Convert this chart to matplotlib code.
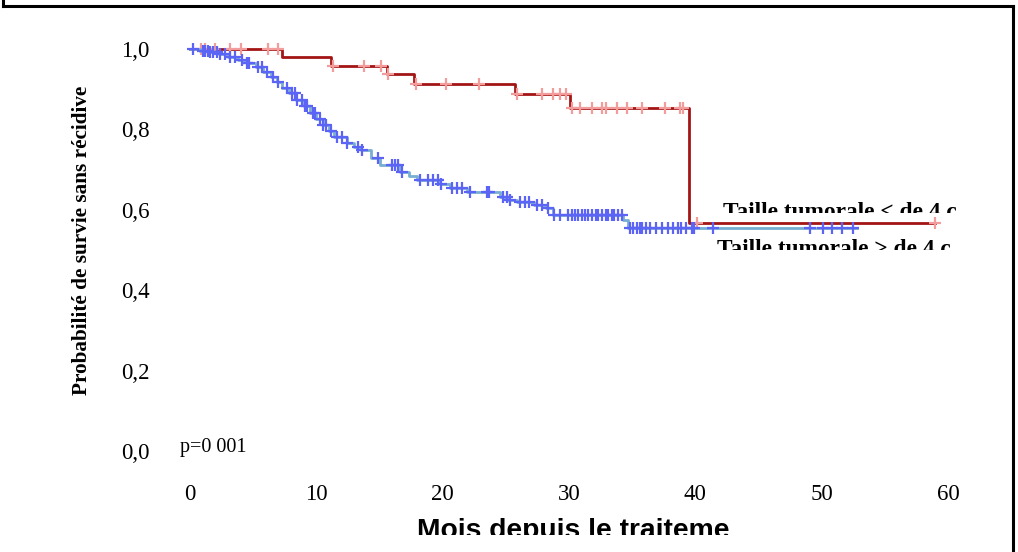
import numpy as np
import matplotlib
matplotlib.use("Agg")
import matplotlib.pyplot as plt
from matplotlib.lines import Line2D
from matplotlib.transforms import Bbox

# Tumeur <= 4 cm : temps des evenements (mois) et survie apres chaque saut
red_times = [0, 7.3, 11.2, 15.6, 17.7, 25.7, 30.1, 39.5]
red_surv = [1.0, 0.980, 0.958, 0.938, 0.913, 0.888, 0.853, 0.567]
red_end = 59.0
red_censor = [0.9, 1.2, 2.0, 3.2, 4.0, 6.2, 7.0,
              11.3, 13.8, 15.1, 15.7, 17.9, 20.3, 22.9,
              25.9, 27.9, 28.7, 29.3, 29.8,
              30.2, 30.9, 31.8, 32.6, 32.9, 33.8, 34.6, 35.8, 37.6, 38.8, 39.0,
              40.1, 59.0]

# Tumeur > 4 cm
blue_times = [0, 0.8, 1.5, 2.3, 3.0, 3.8, 4.5, 5.2, 5.8, 6.4, 6.9, 7.3, 7.8,
              8.4, 9.0, 9.5, 10.0, 10.5, 11.0, 11.4, 12.4, 13.0, 13.5, 14.3,
              15.0, 16.6, 17.3, 18.0, 19.8, 20.6, 21.9, 24.5, 25.2, 25.9,
              27.2, 28.2, 28.7, 34.3, 34.7]
blue_surv = [1.0, 0.996, 0.992, 0.987, 0.981, 0.973, 0.965, 0.956, 0.944,
             0.931, 0.918, 0.902, 0.890, 0.874, 0.858, 0.842, 0.827, 0.811,
             0.796, 0.781, 0.766, 0.757, 0.749, 0.730, 0.712, 0.694, 0.684,
             0.674, 0.664, 0.654, 0.644, 0.632, 0.625, 0.619, 0.612, 0.604,
             0.587, 0.575, 0.555]
blue_end = 52.8
blue_censor = [0.2, 1.0, 1.2, 1.4, 1.6, 1.8, 2.1, 2.4, 2.8, 3.2, 3.6, 4.1,
               4.5, 4.7, 5.4, 5.7, 6.1, 6.6, 7.0, 7.7, 8.1, 8.3, 8.5, 8.9,
               9.1, 9.3, 9.7, 9.9, 10.3, 10.5, 10.8, 11.2, 11.6, 12.0, 12.4,
               13.3, 13.6, 14.9, 16.0, 16.2, 16.5, 16.8, 18.2, 18.8, 19.2,
               19.6, 19.9, 20.7, 21.1, 21.5, 22.2, 23.5, 23.7, 24.8, 25.1,
               25.3, 26.1, 26.5, 26.8, 27.5, 27.9, 28.3, 28.8, 29.3, 29.9,
               30.2, 30.5, 30.7, 31.0, 31.3, 31.5, 31.8, 32.1, 32.3, 32.6,
               32.9, 33.1, 33.4, 33.6, 33.9, 34.2, 34.8, 35.1, 35.4, 35.6,
               35.8, 36.1, 36.4, 36.9, 37.4, 37.8, 38.2, 38.6, 38.9, 39.3,
               39.7, 39.9, 41.4, 49.1, 50.1, 50.8, 51.6, 52.5]

x_ticks = [0, 10, 20, 30, 40, 50, 60]
y_ticks = [0.0, 0.2, 0.4, 0.6, 0.8, 1.0]
y_ticklabels = ["0,0", "0,2", "0,4", "0,6", "0,8", "1,0"]

label_red = "Taille tumorale < de 4 c"
label_blue = "Taille tumorale > de 4 c"
p_text = "p=0 001"
x_label = "Mois depuis le traiteme"
y_label = "Probabilité de survie sans récidive"

RED_LINE = "#a31515"
RED_MARK = "#f39c9c"
BLUE_LINE = "#78aed2"
BLUE_MARK = "#5c64f6"

W, H = 1018, 552


def surv_at(times, surv, t):
    i = np.searchsorted(times, t, side="right") - 1
    return surv[i]


def draw_km(ax, times, surv, end, censor, line_color, mark_color):
    xs = list(times) + [end]
    ys = list(surv) + [surv[-1]]
    ax.step(xs, ys, where="post", color=line_color, lw=2, clip_on=False)
    cy = [surv_at(times, surv, t) for t in censor]
    ax.plot(censor, cy, ls="none", marker="+", ms=8, mew=1.6,
            color=mark_color, clip_on=False)


fig = plt.figure(figsize=(W / 100, H / 100), dpi=100)
ax = fig.add_axes([190 / W, 1 - 451 / H, (948 - 190) / W, (451 - 49) / H])
ax.set_xlim(0, 60)
ax.set_ylim(0, 1)

draw_km(ax, red_times, red_surv, red_end, red_censor, RED_LINE, RED_MARK)
draw_km(ax, blue_times, blue_surv, blue_end, blue_censor, BLUE_LINE, BLUE_MARK)

for s in ax.spines.values():
    s.set_visible(False)
ax.set_xticks(x_ticks)
ax.set_yticks(y_ticks)
ax.set_yticklabels(y_ticklabels)
ax.tick_params(length=0, labelsize=16.5)
ax.tick_params(axis="y", pad=29)
ax.tick_params(axis="x", pad=24)
for lab in ax.get_xticklabels() + ax.get_yticklabels():
    lab.set_family("Liberation Serif")

serif = "Liberation Serif"

fig.text(82 / W, 1 - 240 / H, y_label, rotation=90, ha="center", va="center",
         family=serif, weight="bold", fontsize=15.3)

fig.text(180 / W, 1 - 452 / H, p_text, ha="left", va="baseline",
         family=serif, fontsize=14.5)


def clipped_text(x, baseline, clip_y, s, **kw):
    t = fig.text(x / W, 1 - baseline / H, s, ha="left", va="baseline", **kw)
    t.set_clip_box(Bbox.from_extents(0, H - clip_y, W, H))
    t.set_clip_on(True)
    return t


clipped_text(723, 218, 213, label_red, family=serif, weight="bold",
             fontsize=16.8)
clipped_text(717, 255, 250, label_blue, family=serif, weight="bold",
             fontsize=16.8)
clipped_text(417, 538, 535, x_label, family="Liberation Sans", weight="bold",
             fontsize=20.3)

# cadre noir autour de la figure
for xs, ys in [([3, 3], [0, 6]), ([3, 1013], [6, 6]), ([1013, 1013], [6, 552])]:
    fig.add_artist(Line2D([x / W for x in xs], [1 - y / H for y in ys],
                          color="black", lw=2.2))

fig.savefig("out.png", dpi=100)
